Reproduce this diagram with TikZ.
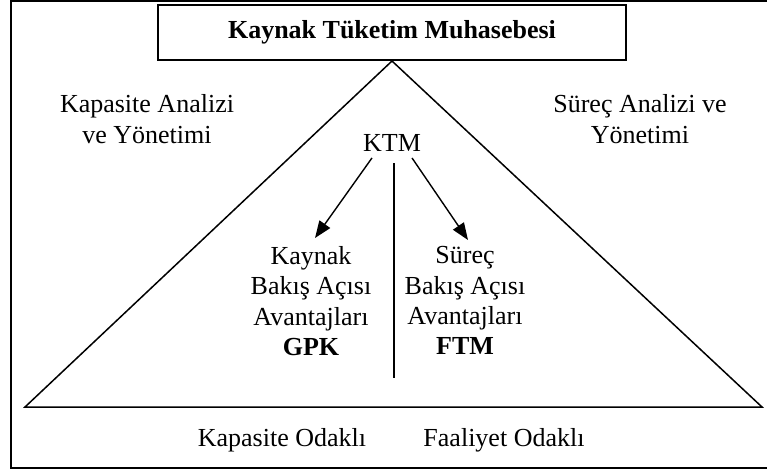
\documentclass[tikz,border=0pt]{standalone}
\usepackage{fontspec}
\setmainfont{Liberation Serif}
\usetikzlibrary{arrows.meta,positioning,calc}
\definecolor{Ink}{HTML}{000000}

\begin{document}
\begin{tikzpicture}[x=0.5pt,y=-0.5pt,font=\fontsize{13}{15.2}\selectfont,
  txt/.style={align=center,inner sep=1pt},
  pijl/.style={-{Triangle[length=8.5pt,width=6.5pt]},line width=0.7pt}]
\useasboundingbox (0,0) rectangle (767,473);
% kader
\draw[Ink,line width=1pt] (767,1) -- (11,1) -- (11,468) -- (767,468);
\node[draw,line width=1pt,inner sep=0pt,minimum width=234pt,minimum height=27.5pt,font=\fontsize{13}{15.2}\selectfont\bfseries] (ktmbaslik) at (392,32.5) {Kaynak Tüketim Muhasebesi};
% piramit
\coordinate (solalt) at (25,407);
\coordinate (sagalt) at (762,407);
\draw[Ink,line width=0.75pt] (ktmbaslik.south) -- (solalt) -- (sagalt) -- cycle;
\node[txt] (kapasite) at (147,119) {Kapasite Analizi\\ve Yönetimi};
\node[txt] (surecust) at (640,119) {Süreç Analizi ve\\Yönetimi};
\node[txt] (ktm) at (392,143) {KTM};
\coordinate (ayirust) at (394,163);
\coordinate (ayiralt) at (394,378);
\draw[Ink,line width=0.75pt] (ayirust) -- (ayiralt);
\node[txt,anchor=north] (kaynak) at (311,244) {Kaynak\\Bakış Açısı\\Avantajları\\\textbf{GPK}};
\node[txt,anchor=north] (surec) at (465,244) {Süreç\\Bakış Açısı\\Avantajları\\\textbf{FTM}};
\draw[pijl] ([xshift=-10pt,yshift=-2pt]ktm.south) -- ([xshift=2pt,yshift=3pt]kaynak.north);
\draw[pijl] ([xshift=10pt,yshift=-2pt]ktm.south) -- ([xshift=1.5pt,yshift=2pt]surec.north);
\node[txt] (kodakli) at (282,440) {Kapasite Odaklı};
\node[txt] (fodakli) at (504,440) {Faaliyet Odaklı};
\end{tikzpicture}
\end{document}
